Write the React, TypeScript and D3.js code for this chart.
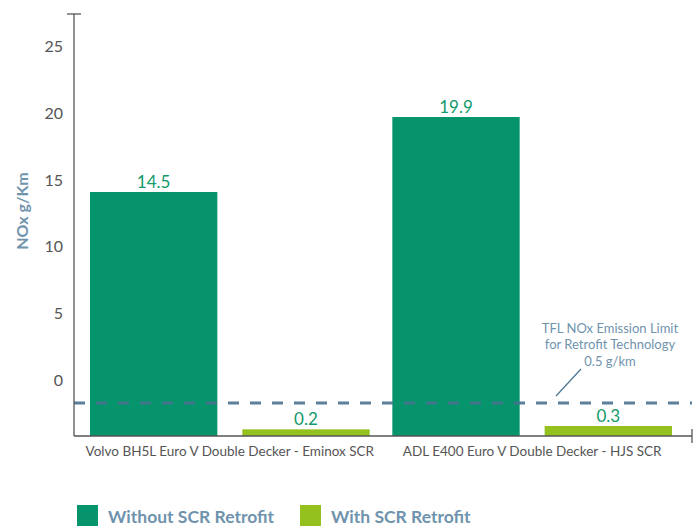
import React from "react";
import * as d3 from "d3";

// chart data
const categories = [
  "Volvo BH5L Euro V Double Decker - Eminox SCR",
  "ADL E400 Euro V Double Decker - HJS SCR",
];
const seriesNames = ["Without SCR Retrofit", "With SCR Retrofit"];
const withoutScr = [14.5, 19.9];
const withScr = [0.2, 0.3];
const yTicks = [0, 5, 10, 15, 20, 25];
const limitValue = 0.5;
const limitNote = ["TFL NOx Emission Limit", "for Retrofit Technology", "0.5 g/km"];

const colors = ["#05946b", "#95c11f"];
const blue = "#4a7391";
const noteBlue = "#6f93ad";
const grey = "#555";
const font = "Lato, 'Open Sans', sans-serif";

const width = 697;
const height = 526;
const axisX = 74;
const baseline = 436;

const App: React.FC = () => {
  // tick labels scale
  const yAxis = d3.scaleLinear().domain([0, 25]).range([380, 46.5]);
  // bars are drawn on the designer's (non-uniform) scale
  const yBar = d3
    .scaleLinear()
    .domain([0, 0.3, 0.5, 2, 25])
    .range([baseline, 426, 403, 365.6, 46.2]);

  const x0 = d3.scaleBand<string>().domain(categories).range([90, 672]).paddingInner(0.075);
  const x1 = d3
    .scaleBand<string>()
    .domain(seriesNames)
    .range([0, x0.bandwidth()])
    .paddingInner(0.164);

  const values = [withoutScr, withScr];
  const limitY = yBar(limitValue);

  return (
    <svg
      width={width}
      height={height}
      style={{ position: "absolute", left: 0, top: 0, fontFamily: font }}
    >
      {/* bars */}
      {categories.map((c, ci) =>
        seriesNames.map((s, si) => {
          const v = values[si][ci];
          const x = (x0(c) ?? 0) + (x1(s) ?? 0);
          const top = yBar(v);
          return (
            <g key={c + s}>
              <rect x={x} y={top} width={x1.bandwidth()} height={baseline - top} fill={colors[si]} />
              <text
                x={x + x1.bandwidth() / 2}
                y={top - 4}
                textAnchor="middle"
                fontSize={17}
                fill="#119a6c"
              >
                {v}
              </text>
            </g>
          );
        })
      )}

      {/* limit line */}
      <line
        x1={axisX}
        x2={692}
        y1={limitY}
        y2={limitY}
        stroke={blue}
        strokeWidth={3}
        strokeDasharray="11 11"
        opacity={0.9}
      />
      <line x1={556} y1={limitY - 7} x2={581} y2={limitY - 34} stroke={blue} strokeWidth={1.2} />
      {limitNote.map((t, i) => (
        <text
          key={t}
          x={610}
          y={332.5 + i * 16.5}
          textAnchor="middle"
          fontSize={13}
          fill={noteBlue}
        >
          {t}
        </text>
      ))}

      {/* axes */}
      <line x1={axisX} x2={axisX} y1={14} y2={baseline} stroke={grey} strokeWidth={1.3} />
      <line x1={67} x2={81} y1={14} y2={14} stroke={grey} strokeWidth={1.3} />
      <line x1={axisX} x2={692} y1={baseline} y2={baseline} stroke={grey} strokeWidth={1.3} />
      <line x1={692} x2={692} y1={429} y2={443} stroke={grey} strokeWidth={1.3} />
      {yTicks.map((t) => (
        <text
          key={t}
          x={63}
          y={yAxis(t)}
          dy="0.36em"
          textAnchor="end"
          fontSize={16}
          fill={grey}
        >
          {t}
        </text>
      ))}
      <text
        transform="translate(22,211) rotate(-90)"
        textAnchor="middle"
        dy="0.36em"
        fontSize={16}
        fontWeight={700}
        fill={noteBlue}
      >
        NOx g/Km
      </text>
      {categories.map((c) => (
        <text
          key={c}
          x={(x0(c) ?? 0) + x0.bandwidth() / 2}
          y={451}
          dy="0.36em"
          textAnchor="middle"
          fontSize={13.5}
          fill={grey}
        >
          {c}
        </text>
      ))}

      {/* legend */}
      {seriesNames.map((s, i) => {
        const lx = i === 0 ? 77 : 300;
        return (
          <g key={s}>
            <rect x={lx} y={505} width={21} height={21} fill={colors[i]} />
            <text x={lx + 31} y={523} fontSize={17.5} fontWeight={700} fill={noteBlue}>
              {s}
            </text>
          </g>
        );
      })}
    </svg>
  );
};

export default App;
